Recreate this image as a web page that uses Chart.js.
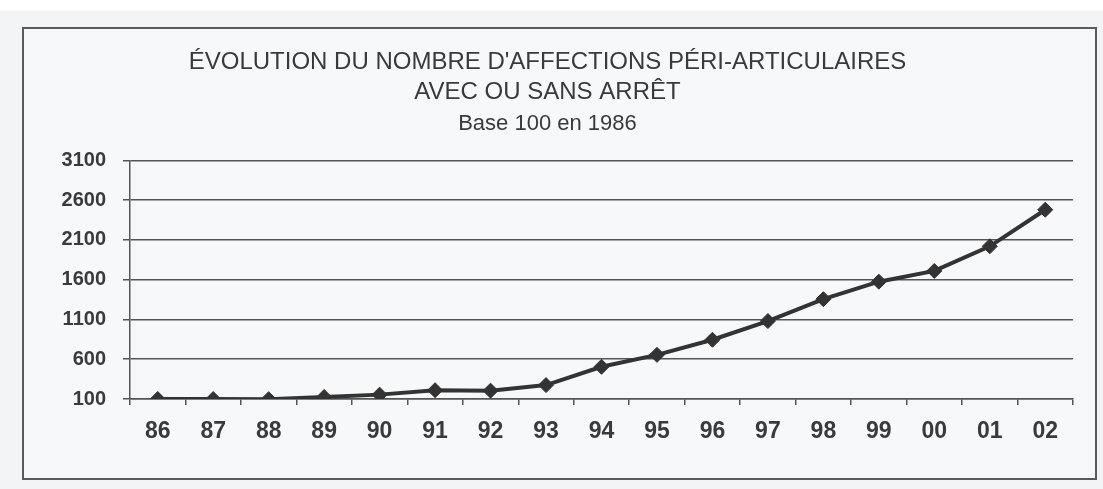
<!DOCTYPE html>
<html>
<head>
<meta charset="utf-8">
<script src="https://cdn.jsdelivr.net/npm/chart.js@4/dist/chart.umd.min.js"></script>
<style>
  html, body { margin: 0; padding: 0; }
  body { width: 1103px; height: 489px; background: #f3f4f6; position: relative; overflow: hidden; }
  #strip { position: absolute; left: 0; top: 0; width: 1103px; height: 11px; background: #ffffff; }
  #wrap { position: absolute; left: 22px; top: 27px; width: 1075px; height: 453px; }
</style>
</head>
<body>
<div id="strip"></div>
<div id="wrap"><canvas id="c" width="1075" height="453"></canvas></div>
<script>
const titleLines = ["ÉVOLUTION DU NOMBRE D'AFFECTIONS PÉRI-ARTICULAIRES", "AVEC OU SANS ARRÊT"];
const subtitleText = "Base 100 en 1986";
const years = ['86','87','88','89','90','91','92','93','94','95','96','97','98','99','00','01','02'];
const indexValues = [100, 100, 98, 125, 155, 210, 205, 275, 505, 655, 845, 1080, 1355, 1575, 1710, 2020, 2480];
const yMin = 100, yMax = 3100, yStep = 500;

const frame = {
  id: 'frame',
  beforeDraw(chart) {
    const ctx = chart.ctx;
    ctx.save();
    ctx.fillStyle = '#f7f8fa';
    ctx.fillRect(0, 0, chart.width, chart.height);
    ctx.strokeStyle = '#5a5a5a';
    ctx.lineWidth = 2;
    ctx.strokeRect(1, 1, chart.width - 2, chart.height - 2);
    ctx.restore();
  }
};

new Chart(document.getElementById('c'), {
  type: 'line',
  data: {
    labels: years,
    datasets: [{
      data: indexValues,
      borderColor: '#333333',
      backgroundColor: '#333333',
      borderWidth: 4,
      pointStyle: 'rectRot',
      pointRadius: 7.5,
      pointBorderWidth: 1,
      pointBackgroundColor: '#333333',
      pointBorderColor: '#333333',
      tension: 0,
      fill: false
    }]
  },
  options: {
    responsive: false,
    animation: false,
    devicePixelRatio: 1,
    layout: { padding: { left: 0, right: 24, top: 0, bottom: 0 } },
    plugins: {
      legend: { display: false },
      tooltip: { enabled: false },
      title: {
        display: true,
        text: titleLines,
        color: '#3a3a3a',
        font: { family: 'Liberation Sans', size: 24, weight: 'normal', lineHeight: 1.25 },
        padding: { top: 20, bottom: 4 }
      },
      subtitle: {
        display: true,
        text: subtitleText,
        color: '#3a3a3a',
        font: { family: 'Liberation Sans', size: 22, weight: 'normal', lineHeight: 1.2 },
        padding: { top: 0, bottom: 23 }
      }
    },
    scales: {
      x: {
        type: 'category',
        offset: true,
        grid: {
          display: true,
          offset: true,
          drawOnChartArea: false,
          drawTicks: true,
          tickLength: 6,
          color: '#555555',
          lineWidth: 1.5
        },
        border: { display: true, color: '#555555', width: 1.5 },
        ticks: {
          color: '#3a3a3a',
          font: { family: 'Liberation Sans', size: 23, weight: 'bold' },
          padding: 13,
          maxRotation: 0,
          autoSkip: false
        },
        afterFit(scale) { scale.height = 81; }
      },
      y: {
        min: yMin,
        max: yMax,
        grid: {
          color: '#555555',
          lineWidth: 1.5,
          drawTicks: true,
          tickLength: 7
        },
        border: { display: true, color: '#555555', width: 1.5 },
        ticks: {
          stepSize: yStep,
          color: '#3a3a3a',
          font: { family: 'Liberation Sans', size: 20, weight: 'bold' },
          padding: 17,
          callback: (v) => String(v)
        },
        afterFit(scale) { scale.width = 108; }
      }
    }
  },
  plugins: [frame]
});
</script>
</body>
</html>
